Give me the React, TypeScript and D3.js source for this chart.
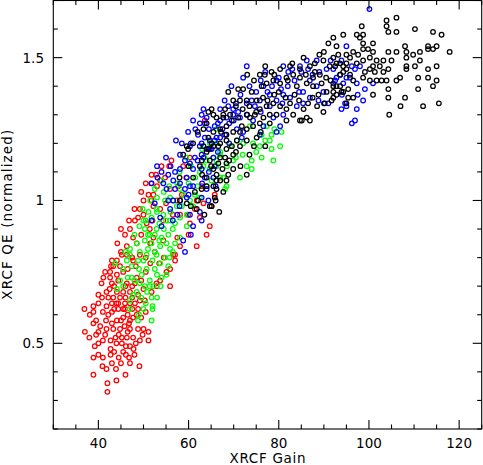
import React from "react";
import * as d3 from "d3";

type P = [number, number];

const red: P[] = [
[36.9,0.62],[37.0,0.54],[38.0,0.52],[38.9,0.57],[38.9,0.45],[38.9,0.39],[42.0,0.36],[42.0,0.33],[44.0,0.37],[46.0,0.39],
[49.1,0.42],[48.0,0.46],[47.0,0.43],[45.0,0.43],[43.0,0.43],[43.9,0.41],[41.8,0.41],[40.9,0.42],[40.0,0.46],[39.2,0.49],
[40.0,0.50],[41.0,0.51],[42.7,0.51],[42.7,0.48],[42.7,0.46],[46.1,0.46],[46.1,0.49],[47.0,0.49],[45.2,0.50],[45.2,0.52],
[46.3,0.52],[47.7,0.52],[49.2,0.51],[51.1,0.51],[51.1,0.54],[50.0,0.55],[48.8,0.55],[47.0,0.55],[44.8,0.55],[43.3,0.55],
[41.8,0.55],[40.4,0.56],[40.0,0.54],[38.9,0.61],[38.1,0.60],[38.9,0.63],[40.0,0.64],[41.0,0.61],[41.7,0.58],[43.0,0.57],
[44.1,0.58],[45.5,0.59],[47.0,0.58],[47.7,0.59],[45.9,0.62],[44.4,0.62],[43.0,0.61],[41.8,0.63],[43.0,0.64],[44.4,0.64],
[45.9,0.64],[47.0,0.64],[48.1,0.64],[49.2,0.65],[50.3,0.65],[42.2,0.66],[43.3,0.66],[40.0,0.67],[41.8,0.68],[44.1,0.68],
[45.5,0.68],[47.0,0.68],[48.8,0.67],[50.0,0.69],[51.8,0.68],[52.9,0.70],[55.9,0.70],[53.7,0.72],[52.9,0.71],[40.7,0.71],
[43.0,0.71],[44.4,0.72],[46.3,0.71],[48.1,0.71],[41.1,0.73],[42.6,0.73],[44.1,0.74],[41.5,0.75],[42.6,0.75],[44.8,0.77],
[43.0,0.79],[43.3,0.77],[45.2,0.81],[46.3,0.81],[49.2,0.81],[55.9,0.76],[57.0,0.79],[57.0,0.81],[55.1,0.75],[47.7,0.79],
[44.1,0.79],[56.2,1.14],[55.7,1.12],[51.8,1.09],[51.7,1.06],[52.2,1.02],[51.8,1.00],[50.0,1.00],[49.2,0.97],[48.8,0.94],
[48.1,0.93],[47.0,0.90],[45.9,0.88],[47.7,0.87],[45.0,0.82],[46.3,0.84],[51.1,1.02],[53.7,1.07],[55.9,1.04],[57.4,1.00],
[58.1,0.95],[60.3,0.92],[61.4,0.97],[64.0,0.88],[64.7,0.91],[61.8,0.84],[58.1,0.84],[56.6,0.81],[54.4,0.86],[52.2,0.87],
[51.4,0.90],[50.7,0.92],[52.2,0.98],[53.7,0.97],[54.4,0.93],[59.9,0.95],[57.7,1.05],[60.3,1.15],[61.8,1.00],[62.5,0.94],
[63.6,1.28],[62.9,1.05],[63.3,0.99],[65.1,0.98],[65.8,1.02],
[42.5,0.69],[43.5,0.70],[44.8,0.66],[45.5,0.62],[46.5,0.60],[46.8,0.57],[45.8,0.56],[46.5,0.54],[44.5,0.53],[44.0,0.50],
[45.5,0.47],[46.8,0.45],[44.5,0.45],[47.5,0.62],[48.5,0.60],[47.5,0.70],[48.5,0.73],[49.5,0.72],[50.5,0.75],[51.5,0.78],
[50.5,0.80],[52.5,0.82],[53.5,0.78],[54.5,0.80],[51.5,0.85],[49.5,0.88],[48.5,0.85],[47.5,0.80],[46.5,0.76],[45.5,0.75],
[43.5,0.62],[42.2,0.60],[40.8,0.66],[39.5,0.58],[48.3,0.77],[52.0,0.93],[50.0,0.95],[53.0,1.05],[55.0,0.99],[56.5,0.95],
[58.5,1.02],[59.5,1.08],[54.0,1.12],[57.5,0.87],[60.0,0.88],
[41.0,0.45],[43.5,0.47],[45.0,0.58],[46.0,0.66],[47.5,0.66],[48.8,0.62],[49.5,0.59],[50.5,0.61],[41.5,0.53],[39.5,0.53],
[43.8,0.52],[47.8,0.48],[49.8,0.53],[48.3,0.50],[44.2,0.85],[45.0,0.90],[46.8,0.93],[48.0,0.97],[49.5,1.03],[50.5,1.06],
[52.8,1.09],[54.8,1.08],[58.8,1.12],[46.0,0.70],[44.0,0.64],[42.8,0.77]
];

const green: P[] = [
[51.8,0.58],[52.0,0.63],[52.0,0.62],[51.8,0.66],[50.0,0.62],[48.8,0.58],[47.0,0.62],[47.0,0.65],[47.7,0.67],[44.1,0.69],
[43.7,0.78],[44.8,0.72],[45.5,0.70],[47.4,0.73],[49.2,0.71],[50.3,0.70],[51.4,0.70],[54.0,0.73],[55.1,0.74],[50.7,0.76],
[52.5,0.76],[53.7,0.78],[54.8,0.80],[52.9,0.81],[50.7,0.81],[48.8,0.79],[47.4,0.77],[46.3,0.79],[47.0,0.81],[49.6,0.74],
[51.4,0.72],[54.0,1.07],[55.7,1.05],[55.9,1.01],[54.8,1.00],[58.1,1.04],[57.4,0.98],[59.6,0.95],[58.1,0.94],[57.0,0.92],
[55.9,0.93],[54.4,0.95],[52.9,0.97],[51.8,0.94],[51.1,0.96],[50.0,0.93],[49.1,0.91],[50.3,0.90],[51.4,0.88],[52.9,0.90],
[54.0,0.87],[55.1,0.85],[53.7,0.84],[51.8,0.85],[50.3,0.86],[48.5,0.85],[47.0,0.83],[46.0,0.82],[49.2,0.82],[52.5,0.82],
[55.9,0.83],[58.1,0.87],[59.6,0.91],[61.0,0.98],[64.0,1.05],[67.0,1.08],[68.1,1.04],[65.1,1.07],[62.5,1.01],[66.2,1.14],
[64.7,1.20],[67.0,1.17],[66.2,1.25],[61.4,1.02],[60.3,1.00],
[73.6,1.26],[76.2,1.23],[78.4,1.23],[78.0,1.21],[80.3,1.19],[78.4,1.18],[76.2,1.15],[74.0,1.14],[72.9,1.12],[74.0,1.11],
[78.8,1.14],[71.4,1.08],[68.4,1.05],[67.7,1.08],[66.2,1.12],[64.7,1.11],[63.3,1.12],[69.9,1.14],[69.2,1.19],[70.7,1.21],
[72.1,1.20],[67.0,1.16],[65.5,1.15],[64.0,1.14],[66.2,1.20],[74.3,1.20],[75.8,1.19],[80.6,1.24],[77.3,1.26],
[48.0,0.72],[49.0,0.76],[50.0,0.79],[51.0,0.83],[52.0,0.79],[53.0,0.74],[52.2,0.70],[50.8,0.68],[49.5,0.66],[48.5,0.68],
[46.5,0.73],[45.5,0.76],[53.5,0.86],[54.5,0.90],[55.5,0.88],[56.5,0.90],[56.0,0.96],[53.5,0.92],[52.5,0.88],[50.5,0.93],
[49.8,0.97],[51.5,1.00],[53.0,1.01],[54.5,1.03],[56.5,1.00],[57.5,1.06],[58.5,0.98],[59.0,1.02],[60.0,1.06],[61.5,1.08],
[62.5,1.10],[63.5,1.15],[65.0,1.18],[62.0,1.05],[57.0,0.85],[55.8,0.80],[53.0,0.96],[51.0,0.88],[48.0,0.88],
[50.5,0.64],[49.0,0.60],[53.0,0.66],[53.8,0.70],[55.5,0.77],[56.5,0.82],[55.0,0.93],[52.5,1.04],[58.0,1.10],[60.5,1.12],
[59.5,1.15],[63.0,1.18],[68.5,1.12],[70.5,1.15],[72.0,1.16],[75.0,1.17],[77.0,1.21],[79.0,1.25]
];

const blue: P[] = [
[57.2,1.21],[59.9,1.24],[62.1,1.23],[63.6,1.27],[64.0,1.29],[62.5,1.19],[60.3,1.19],[58.1,1.16],[59.2,1.14],[58.1,1.11],
[57.0,1.10],[55.5,1.09],[54.0,1.10],[51.8,1.06],[53.1,1.08],[54.4,1.06],[55.1,1.04],[56.6,1.07],[58.1,1.06],[59.6,1.08],
[61.0,1.11],[60.3,1.13],[61.4,1.15],[62.9,1.16],[64.7,1.21],[66.2,1.22],[65.1,1.18],[59.2,1.04],[60.3,1.05],[59.6,1.01],
[58.1,1.00],[56.6,1.00],[55.9,0.97],[53.7,0.94],[54.0,0.91],[51.8,0.93],[61.0,0.91],[60.3,0.95],[62.5,0.96],[62.9,0.93],
[59.2,0.82],[58.8,0.86],
[72.9,1.47],[72.1,1.43],[81.0,1.47],[82.1,1.45],[84.7,1.47],[86.2,1.49],[88.4,1.49],[90.6,1.46],[92.8,1.43],[95.0,1.43],
[94.7,1.34],[95.0,1.33],[91.0,1.34],[88.8,1.35],[86.9,1.36],[85.4,1.34],[84.0,1.33],[82.5,1.36],[81.0,1.37],[79.5,1.35],
[78.0,1.37],[76.6,1.40],[75.8,1.35],[74.7,1.33],[72.9,1.34],[69.9,1.32],[69.9,1.30],[68.8,1.33],[71.4,1.29],[74.3,1.28],
[76.6,1.26],[79.5,1.24],[80.3,1.26],[78.8,1.29],[81.0,1.30],[78.0,1.33],[63.3,1.32],[62.9,1.30],[63.6,1.22],[62.9,1.20],
[64.0,1.18],[63.3,1.15],[62.9,1.11],[63.6,1.08],[64.0,1.04],[62.9,1.01],[64.4,1.00],[65.8,1.21],[67.0,1.22],[68.1,1.23],
[70.7,1.25],[72.1,1.24],[65.8,1.26],[67.0,1.28],[68.4,1.29],[65.8,1.12],[64.7,1.18],[75.8,1.23],[85.4,1.38],[86.9,1.42],
[88.4,1.40],[89.9,1.38],[92.1,1.41],[93.6,1.44],
[100.1,1.67],[95.0,1.54],[93.9,1.49],[96.2,1.47],[96.9,1.46],[95.8,1.43],[94.3,1.41],[97.3,1.41],[100.9,1.41],[99.1,1.39],
[98.7,1.35],[97.3,1.32],[93.9,1.32],[96.9,1.28],[96.2,1.27],[92.1,1.46],[92.5,1.42],[98.0,1.47],
[60.5,1.20],[61.5,1.25],[62.0,1.14],[61.0,1.05],[63.0,1.06],[64.5,1.10],[65.5,1.15],[66.5,1.17],[67.5,1.25],[69.0,1.27],
[70.0,1.28],[71.0,1.31],[73.0,1.30],[74.0,1.35],[75.0,1.38],[76.0,1.42],[77.5,1.38],[78.5,1.40],[79.5,1.42],[80.5,1.39],
[82.0,1.40],[83.5,1.42],[85.0,1.45],[87.5,1.44],[89.0,1.45],[66.0,1.05],[58.0,0.98],[57.0,1.04],[56.0,1.12],[55.0,1.15],
[53.0,1.12],[52.5,0.99],[67.0,1.32],[69.5,1.40],[71.5,1.37],[73.5,1.40],
[60.0,1.02],[57.5,0.95],[55.5,1.00],[58.5,1.20],[61.0,1.28],[62.5,1.27],[64.5,1.25],[66.5,1.27],[68.0,1.35],[70.5,1.34],
[77.0,1.45],[80.0,1.43],[83.0,1.46],[86.5,1.46],[91.5,1.49],[94.0,1.37],[97.5,1.37],[90.0,1.34],[84.5,1.38],[80.8,1.34],
[76.0,1.31],[71.8,1.22],[69.0,1.20],[65.5,1.08],[60.5,0.88],[56.5,0.93]
];

const black: P[] = [
[64.4,1.31],[65.5,1.30],[67.7,1.29],[67.0,1.25],[68.4,1.23],[65.1,1.20],[66.6,1.19],[68.4,1.18],[64.0,1.17],[67.0,1.15],
[68.4,1.13],[65.5,1.11],[64.0,1.08],[66.2,1.07],[68.4,1.07],[62.9,1.04],[66.2,1.04],[64.0,1.05],[65.1,0.98],[61.8,0.97],
[62.1,1.00],[61.4,1.03],[61.0,1.08],[62.5,1.12],[62.9,1.14],[59.9,1.18],[59.6,1.19],[58.8,1.16],[58.1,1.00],[59.6,0.99],
[65.8,1.01],[67.7,1.03],
[65.1,1.32],[68.1,1.32],[71.0,1.39],[71.4,1.35],[72.9,1.35],[75.1,1.35],[74.7,1.30],[72.9,1.30],[71.0,1.29],[69.6,1.28],
[68.4,1.26],[67.2,1.24],[65.5,1.24],[64.4,1.22],[69.9,1.24],[71.8,1.26],[73.6,1.29],[75.8,1.32],[77.3,1.33],[78.8,1.34],
[80.3,1.33],[81.7,1.32],[83.2,1.30],[84.7,1.28],[86.2,1.29],[86.9,1.28],[89.9,1.31],[90.2,1.34],[91.7,1.35],[92.8,1.37],
[94.3,1.38],[95.4,1.36],[93.6,1.40],[92.1,1.40],[90.6,1.38],[88.8,1.37],[87.6,1.40],[86.2,1.41],[84.7,1.43],[83.2,1.44],
[81.7,1.43],[80.3,1.41],[78.8,1.42],[77.3,1.41],[76.2,1.40],[75.8,1.44],[76.9,1.44],[78.4,1.45],[80.3,1.46],[82.5,1.47],
[84.7,1.46],[86.9,1.47],[88.0,1.48],[89.9,1.49],[91.3,1.47],[92.8,1.48],[94.3,1.47],[93.6,1.44],[95.0,1.46],[89.1,1.44],
[87.6,1.43],[85.1,1.28],[81.7,1.28],[79.5,1.30],[78.0,1.30],[76.6,1.29],[75.8,1.27],[74.3,1.26],[72.9,1.25],[71.4,1.24],
[70.7,1.21],[69.6,1.19],[68.4,1.21],[67.0,1.20],[65.5,1.19],[64.4,1.18],[64.7,1.14],[66.6,1.13],[68.1,1.15],[69.9,1.16],
[71.4,1.19],[72.9,1.21],[75.1,1.22],[77.0,1.19],[69.9,1.11],[68.8,1.09],[72.9,1.09],[67.0,1.07],[65.5,1.05],[64.7,0.98],
[66.2,1.09],[63.3,1.19],[63.3,1.25],[64.0,1.27],[66.2,1.29],[67.7,1.30],[69.2,1.30],[69.9,1.35],[68.8,1.38],[72.1,1.39],
[74.0,1.38],
[106.1,1.64],[103.9,1.63],[103.9,1.61],[104.3,1.59],[106.1,1.59],[110.2,1.60],[114.2,1.59],[116.1,1.58],[98.4,1.61],[97.3,1.58],
[98.7,1.58],[98.0,1.57],[94.3,1.58],[92.1,1.57],[92.8,1.54],[100.9,1.55],[99.8,1.53],[98.7,1.53],[97.6,1.51],[96.5,1.52],
[95.8,1.50],[95.0,1.51],[93.2,1.51],[92.1,1.50],[92.5,1.47],[93.6,1.48],[95.0,1.48],[97.3,1.48],[98.7,1.49],[100.2,1.50],
[101.7,1.49],[103.2,1.49],[102.4,1.47],[100.9,1.47],[100.2,1.46],[101.3,1.45],[103.2,1.45],[104.3,1.46],[105.0,1.49],[104.3,1.52],
[106.1,1.52],[108.0,1.54],[108.3,1.52],[109.8,1.51],[111.3,1.52],[108.3,1.50],[108.3,1.47],[108.3,1.46],[110.2,1.47],[111.3,1.49],
[113.1,1.54],[115.0,1.54],[113.1,1.53],[114.2,1.53],[117.9,1.52],[113.1,1.46],[115.0,1.47],[106.9,1.43],[106.1,1.42],[103.9,1.42],
[102.8,1.42],[101.7,1.42],[100.2,1.42],[98.7,1.43],[95.8,1.44],[94.3,1.45],[96.5,1.42],[92.8,1.40],[92.1,1.38],[93.9,1.38],
[95.4,1.39],[96.5,1.36],[100.9,1.37],[104.3,1.39],[104.3,1.36],[110.9,1.43],[113.1,1.43],[115.0,1.42],[114.2,1.40],[110.9,1.39],
[95.0,1.34],[92.1,1.36],[98.7,1.55],[100.9,1.52],[99.1,1.45],[112.0,1.33],[115.5,1.34],[108.0,1.36],[107.0,1.33],[104.5,1.30],
[70.5,1.33],[72.0,1.32],[73.5,1.33],[75.0,1.31],[76.5,1.36],[77.5,1.35],[79.0,1.37],[80.0,1.38],[81.5,1.36],[82.5,1.34],
[83.5,1.37],[84.5,1.35],[85.5,1.32],[86.5,1.34],[87.5,1.36],[88.5,1.33],[89.5,1.41],[90.5,1.43],[91.5,1.42],[88.0,1.45],
[86.0,1.44],[84.0,1.40],[82.0,1.42],[79.0,1.44],[77.0,1.47],[74.5,1.42],[73.0,1.44],[83.0,1.48],[85.5,1.50],[90.0,1.52],
[91.0,1.55],[89.0,1.51],
[58.0,1.08],[60.0,1.12],[61.0,1.20],[62.0,1.24],[63.0,1.09],[65.0,1.12],[66.0,1.00],[67.5,1.11],[69.0,1.14],[70.5,1.17],
[71.5,1.12],[73.5,1.16],[74.5,1.19],[76.0,1.24],[78.0,1.27],[60.5,0.98],[63.5,0.95],[66.8,0.96]
];

const series: { name: string; color: string; points: P[] }[] = [
  { name: "red", color: "#ff0000", points: red },
  { name: "green", color: "#00ff00", points: green },
  { name: "blue", color: "#0000ff", points: blue },
  { name: "black", color: "#000000", points: black },
];

const xDomain: [number, number] = [30, 125];
const yDomain: [number, number] = [0.2, 1.7];
const xMajorTicks = [40, 60, 80, 100, 120];
const xTickLabels = ["40", "60", "80", "100", "120"];
const yMajorTicks = [0.5, 1, 1.5];
const yTickLabels = ["0.5", "1", "1.5"];
const xTitle = "XRCF Gain";
const yTitle = "XRCF QE (normalized)";

const W = 483;
const H = 465;
const L = 53.3, R = 481.7, T = 0.5, B = 429;

export default function App() {
  const x = d3.scaleLinear().domain(xDomain).range([L, R]);
  const y = d3.scaleLinear().domain(yDomain).range([B, T]);
  const xMinor = d3.range(30, 125.01, 5).filter((v) => !xMajorTicks.includes(v));
  const yMinor = d3.range(2, 17.01, 1).map((v) => v / 10).filter((v) => !yMajorTicks.some((m) => Math.abs(m - v) < 1e-6));
  const maj = 9, min = 4.5;
  const font = "DejaVu Sans, sans-serif";
  return (
    <div style={{ position: "fixed", left: 0, top: 0, width: W, height: H, background: "#fff" }}>
      <svg width={W} height={H} viewBox={`0 0 ${W} ${H}`} style={{ display: "block" }}>
        <rect x={0} y={0} width={W} height={H} fill="#fff" />
        {series.map((s) => (
          <g key={s.name} fill="none" stroke={s.color} strokeWidth={1.25}>
            {s.points.map((p, i) => (
              <circle key={i} cx={x(p[0])} cy={y(p[1])} r={2.3} />
            ))}
          </g>
        ))}
        <g stroke="#000" strokeWidth={1.1} fill="none">
          <rect x={L} y={T} width={R - L} height={B - T} />
          {xMajorTicks.map((v) => (
            <g key={"xm" + v}>
              <line x1={x(v)} x2={x(v)} y1={B} y2={B - maj} />
              <line x1={x(v)} x2={x(v)} y1={T} y2={T + maj} />
            </g>
          ))}
          {xMinor.map((v) => (
            <g key={"xn" + v}>
              <line x1={x(v)} x2={x(v)} y1={B} y2={B - min} />
              <line x1={x(v)} x2={x(v)} y1={T} y2={T + min} />
            </g>
          ))}
          {yMajorTicks.map((v) => (
            <g key={"ym" + v}>
              <line x1={L} x2={L + maj} y1={y(v)} y2={y(v)} />
              <line x1={R} x2={R - maj} y1={y(v)} y2={y(v)} />
            </g>
          ))}
          {yMinor.map((v) => (
            <g key={"yn" + v}>
              <line x1={L} x2={L + min} y1={y(v)} y2={y(v)} />
              <line x1={R} x2={R - min} y1={y(v)} y2={y(v)} />
            </g>
          ))}
        </g>
        <g fontFamily={font} fontSize={13.5} fill="#000">
          {xMajorTicks.map((v, i) => (
            <text key={"xl" + v} x={x(v)} y={447.5} textAnchor="middle">{xTickLabels[i]}</text>
          ))}
          {yMajorTicks.map((v, i) => (
            <text key={"yl" + v} x={44} y={y(v) + 5} textAnchor="end">{yTickLabels[i]}</text>
          ))}
          <text x={(L + R) / 2} y={463} textAnchor="middle" textLength={76} lengthAdjust="spacing">{xTitle}</text>
          <text transform={`translate(12,${(T + B) / 2}) rotate(-90)`} textAnchor="middle" textLength={170} lengthAdjust="spacing">{yTitle}</text>
        </g>
      </svg>
    </div>
  );
}
